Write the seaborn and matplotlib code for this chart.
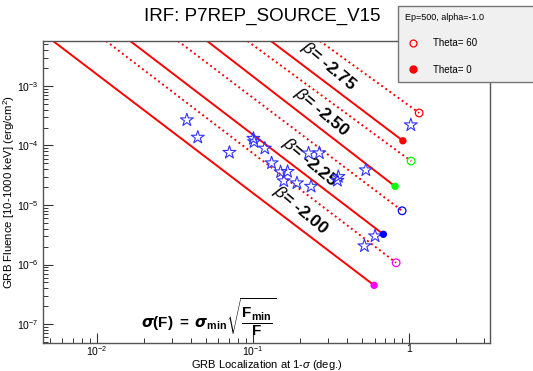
import numpy as np
import pandas as pd
import matplotlib
matplotlib.use("Agg")
import matplotlib.pyplot as plt
from matplotlib.lines import Line2D
from matplotlib.ticker import LogLocator, NullFormatter
import seaborn as sns

# ---- data ----
betas = ["-2.00", "-2.25", "-2.50", "-2.75"]
colors = ["#ff00ff", "#0000ff", "#00ff00", "#ff0000"]

# top of the frame, where all model lines enter the plot
line_top_f = 5.7e-3

# Theta = 0 : solid lines ending with a filled marker
theta0_start_x = [0.00522, 0.0163, 0.0507, 0.130]
theta0_end_x = [0.597, 0.684, 0.813, 0.912]
theta0_end_f = [4.47e-7, 3.22e-6, 2.06e-5, 1.2e-4]

# Theta = 60 : dotted lines ending with an open marker
theta60_start_x = [0.0114, 0.033, 0.092, 0.268]
theta60_end_x = [0.826, 0.902, 1.03, 1.16]
theta60_end_f = [1.07e-6, 8.0e-6, 5.48e-5, 3.52e-4]

# observed GRBs (blue open stars)
grb_sigma = [0.0376, 0.0442, 0.0705, 0.1004, 0.1015, 0.1189, 0.1314, 0.150,
             0.1664, 0.1573, 0.1909, 0.2354, 0.2268, 0.266, 0.352, 0.347,
             0.528, 1.026, 0.605, 0.517]
grb_fluence = [2.68e-4, 1.37e-4, 7.62e-5, 1.31e-4, 1.15e-4, 8.97e-5, 5.08e-5,
               3.59e-5, 3.64e-5, 2.53e-5, 2.34e-5, 2.05e-5, 7.43e-5, 7.48e-5,
               2.99e-5, 2.58e-5, 3.87e-5, 2.21e-4, 3.01e-6, 2.05e-6]

# label placement (axes fraction) for the beta annotations
label_pos = [(0.575, 0.440), (0.597, 0.599), (0.624, 0.765), (0.638, 0.917)]

# ---- build tables ----
rows = []
for b, sx, ex, ef in zip(betas, theta0_start_x, theta0_end_x, theta0_end_f):
    rows.append({"sigma": sx, "fluence": line_top_f, "beta": b, "theta": "0"})
    rows.append({"sigma": ex, "fluence": ef, "beta": b, "theta": "0"})
for b, sx, ex, ef in zip(betas, theta60_start_x, theta60_end_x, theta60_end_f):
    rows.append({"sigma": sx, "fluence": line_top_f, "beta": b, "theta": "60"})
    rows.append({"sigma": ex, "fluence": ef, "beta": b, "theta": "60"})
lines = pd.DataFrame(rows)

ends0 = pd.DataFrame({"sigma": theta0_end_x, "fluence": theta0_end_f, "beta": betas})
ends60 = pd.DataFrame({"sigma": theta60_end_x, "fluence": theta60_end_f, "beta": betas})
grbs = pd.DataFrame({"sigma": grb_sigma, "fluence": grb_fluence})

# ---- style ----
sns.set_style("white")
plt.rcParams["font.family"] = ["Liberation Sans", "DejaVu Sans"]
plt.rcParams["mathtext.fontset"] = "custom"
plt.rcParams["mathtext.rm"] = "Liberation Sans"
plt.rcParams["mathtext.it"] = "Liberation Sans:italic"
plt.rcParams["mathtext.bf"] = "Liberation Sans:bold"
for key in ["text.color", "axes.labelcolor", "xtick.color", "ytick.color"]:
    plt.rcParams[key] = "black"

fig = plt.figure(figsize=(5.33, 3.71), dpi=100)
ax = fig.add_axes([43 / 533, 28 / 371, 447 / 533, 302 / 371])
ax.set_xscale("log")
ax.set_yscale("log")

pal = dict(zip(betas, colors))

# all model curves are red, solid for Theta=0 and dotted for Theta=60
sns.lineplot(data=lines, x="sigma", y="fluence", units="beta", style="theta",
             color="red", dashes={"0": "", "60": (1, 1.6)}, estimator=None,
             sort=False, linewidth=1.4, legend=False, ax=ax)

sns.scatterplot(data=ends0, x="sigma", y="fluence", hue="beta", palette=pal,
                s=28, linewidth=0, legend=False, ax=ax, zorder=5)

sns.scatterplot(data=ends60, x="sigma", y="fluence", hue="beta", palette=pal,
                s=30, linewidth=0.9, legend=False, ax=ax, zorder=5)
pts = ax.collections[-1]
pts.set_edgecolors(pts.get_facecolors())
pts.set_facecolors("none")

sns.scatterplot(data=grbs, x="sigma", y="fluence", marker="*", s=95,
                color="#3333ff", linewidth=0.8, legend=False, ax=ax, zorder=4)
stars = ax.collections[-1]
stars.set_edgecolors("#3333ff")
stars.set_facecolors("none")

ax.set_xlim(0.0045, 3.3)
ax.set_ylim(4.8e-8, 5.7e-3)

# ticks ROOT-like: inside, bottom/left only
ax.set_xticks([0.01, 0.1, 1])
ax.set_xticklabels([r"$10^{-2}$", r"$10^{-1}$", "1"])
ax.set_yticks([1e-7, 1e-6, 1e-5, 1e-4, 1e-3])
ax.set_yticklabels([r"$10^{-7}$", r"$10^{-6}$", r"$10^{-5}$", r"$10^{-4}$", r"$10^{-3}$"])
ax.xaxis.set_minor_locator(LogLocator(base=10, subs=np.arange(2, 10), numticks=20))
ax.yaxis.set_minor_locator(LogLocator(base=10, subs=np.arange(2, 10), numticks=20))
ax.xaxis.set_minor_formatter(NullFormatter())
ax.yaxis.set_minor_formatter(NullFormatter())
ax.tick_params(which="both", direction="in", bottom=True, left=True,
               top=False, right=False, color="#333333", labelsize=7.5)
ax.tick_params(which="major", length=7, width=0.8)
ax.tick_params(which="minor", length=3.5, width=0.7)
ax.tick_params(axis="x", pad=1)
ax.tick_params(axis="y", pad=3)
for s in ax.spines.values():
    s.set_color("#555555")
    s.set_linewidth(1.0)

ax.set_xlabel(r"GRB Localization at 1-$\sigma$ (deg.)", fontsize=8)
ax.set_ylabel(r"GRB Fluence [10-1000 keV] (erg/cm$^{2}$)", fontsize=8.2)
ax.xaxis.set_label_coords(0.5, -0.051)
ax.yaxis.set_label_coords(-0.058, 0.5)

for b, (fx, fy) in zip(betas, label_pos):
    ax.text(fx, fy, r"$\beta$= " + b, transform=ax.transAxes, rotation=-40,
            ha="center", va="center", fontsize=12.5, fontweight="bold")

ax.text(0.370, 0.085,
        r"$\boldsymbol{\sigma}\mathbf{(F)}\ \mathbf{=}\ \boldsymbol{\sigma}_{\mathbf{min}}"
        r"\sqrt{\dfrac{\mathbf{F_{min}}}{\mathbf{F}}}$",
        transform=ax.transAxes, ha="center", va="center", fontsize=11)

fig.text(262 / 533, 1 - 16 / 371, "IRF: P7REP_SOURCE_V15", ha="center",
         va="center", fontsize=13.5)

handles = [Line2D([], [], marker="o", ls="", mfc="none", mec="red", ms=5, mew=0.9),
           Line2D([], [], marker="o", ls="", color="red", ms=5)]
leg = fig.legend(handles=handles, labels=["Theta= 60", "Theta= 0"],
                 title="Ep=500, alpha=-1.0", loc="upper left",
                 bbox_to_anchor=(398 / 533, 1 - 79 / 371, 0.3, 73 / 371),
                 mode="expand", fontsize=7, title_fontsize=6.5, alignment="left",
                 labelspacing=1.7, handletextpad=1.3, handlelength=1.6,
                 borderpad=0.7, borderaxespad=0, fancybox=False, framealpha=1)
leg.get_frame().set_facecolor("#f0f0f0")
leg.get_frame().set_edgecolor("#777777")
leg.get_frame().set_linewidth(1.0)

fig.savefig("out.png", dpi=100)
